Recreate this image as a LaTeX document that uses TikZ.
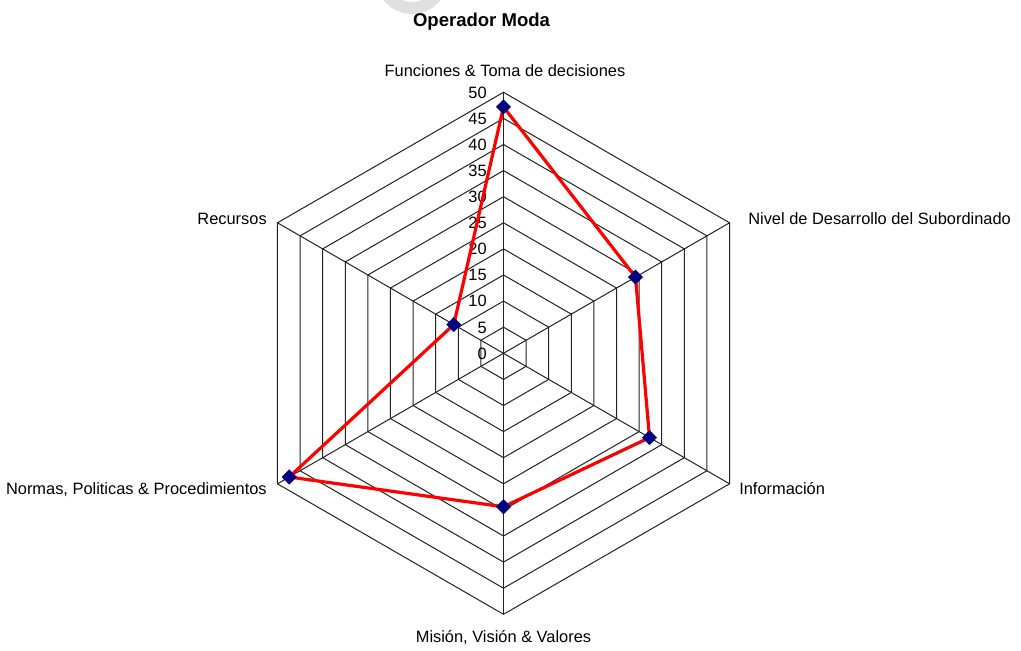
\documentclass[tikz,border=0pt]{standalone}
\usepackage{fontspec}
\setmainfont{Liberation Sans}
\usetikzlibrary{calc,shapes.geometric}
\definecolor{gridline}{RGB}{35,35,35}
\definecolor{seriesred}{RGB}{255,0,0}
\definecolor{markernavy}{RGB}{0,0,128}
\definecolor{watermark}{RGB}{224,224,224}

\begin{document}
\begin{tikzpicture}[x=0.75pt,y=0.75pt,
  axislabel/.style={inner sep=0pt,font=\fontsize{12.3}{14}\selectfont},
  ticklabel/.style={inner sep=0pt,anchor=base east,font=\fontsize{12.3}{14}\selectfont},
  titlelabel/.style={inner sep=0pt,anchor=base,font=\fontsize{13.9}{16}\selectfont\bfseries},
  gridpen/.style={draw=gridline,line width=0.75pt},
  seriespen/.style={draw=seriesred,line width=2.4pt,line join=round},
  marker/.style={diamond,fill=markernavy,inner sep=0pt,minimum size=11.5pt}]
\useasboundingbox (0,0) rectangle (1021,650);
\clip (0,0) rectangle (1021,650);
\fill[white] (0,0) rectangle (1021,650);

% faint ring mark behind the title
\fill[watermark,even odd rule] (412,672) circle (27pt) (412,672) circle (18pt);

% chart centre and the six axis ends (radius 261 = value 50)
\coordinate (O) at (503.5,296.7);
\foreach \a/\n in {90/f,30/n,-30/i,-90/m,-150/p,150/r}
  \coordinate (ax-\n) at ($(O)+(\a:261)$);

% hexagonal grid rings, every 5 units
\foreach \k in {1,...,10}{
  \pgfmathsetmacro\rr{26.1*\k}
  \draw[gridpen] ($(O)+(90:\rr)$) -- ($(O)+(30:\rr)$) -- ($(O)+(-30:\rr)$)
    -- ($(O)+(-90:\rr)$) -- ($(O)+(-150:\rr)$) -- ($(O)+(150:\rr)$) -- cycle;
}
% spokes
\foreach \n in {f,n,i,m,p,r}
  \draw[gridpen] (O) -- (ax-\n);

% scale labels along the top axis
\foreach \v in {0,5,...,50}
  \node[ticklabel] (tick\v) at ($(O)+(-16.5,5.22*\v-5.9)$) {\v};

% data points
\foreach \a/\n/\v in {90/f/47.2,30/n/29.2,-30/i/32.3,-90/m/29.4,-150/p/47.4,150/r/11.0}
  \coordinate (v-\n) at ($(O)+(\a:5.22*\v)$);

\draw[seriespen] (v-f) -- (v-n) -- (v-i) -- (v-m) -- (v-p) -- (v-r) -- cycle;

\foreach \n in {f,n,i,m,p,r}
  \node[marker] (d-\n) at (v-\n) {};

% titles
\node[titlelabel] (title) at (481.5,623) {Operador Moda};
\node[axislabel,anchor=base] (lab-f) at (505,573) {Funciones \& Toma de decisiones};
\node[axislabel,anchor=base west] (lab-n) at (748,425.6) {Nivel de Desarrollo del Subordinado};
\node[axislabel,anchor=base west] (lab-i) at (739,155) {Información};
\node[axislabel,anchor=base] (lab-m) at (503.5,8) {Misión, Visión \& Valores};
\node[axislabel,anchor=base east] (lab-p) at (267,155) {Normas, Politicas \& Procedimientos};
\node[axislabel,anchor=base east] (lab-r) at (267,425) {Recursos};
\end{tikzpicture}
\end{document}
